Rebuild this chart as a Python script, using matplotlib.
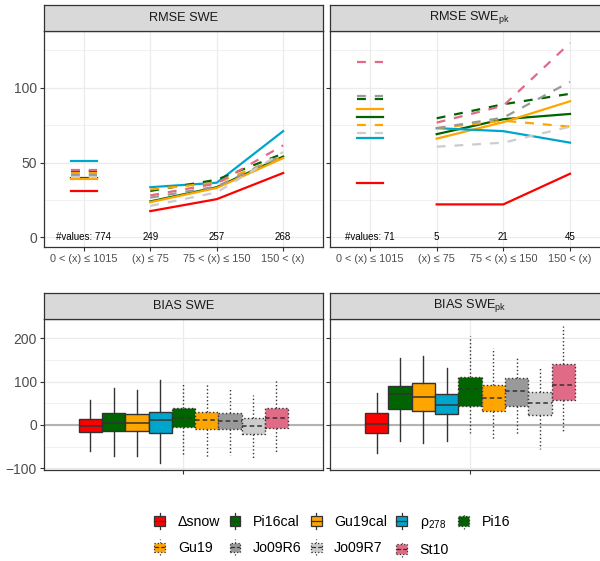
import matplotlib
matplotlib.use("Agg")
import matplotlib.pyplot as plt
from matplotlib.patches import Rectangle, Patch
from matplotlib.lines import Line2D
from matplotlib.legend_handler import HandlerBase

plt.rcParams["font.family"] = ["Liberation Sans", "DejaVu Sans"]
plt.rcParams["mathtext.fontset"] = "custom"
plt.rcParams["mathtext.rm"] = "Liberation Sans"
plt.rcParams["mathtext.default"] = "regular"

# ---- data ----
classes = ["0 < (x) \u2264 1015", "(x) \u2264 75", "75 < (x) \u2264 150", "150 < (x)"]
n_swe = [774, 249, 257, 268]
n_pk = [71, 5, 21, 45]

models = ["\u0394snow", "Pi16cal", "Gu19cal", "\u03c1$_{278}$", "Pi16",
          "Gu19", "Jo09R6", "Jo09R7", "St10"]
COLORS = ["#FF0000", "#006400", "#FFA500", "#00A5CC", "#006400",
          "#FFA500", "#999999", "#CCCCCC", "#E16A86"]
calibrated = [True, True, True, True, False, False, False, False, False]

# RMSE per model, one value per SWE class
rmse_swe = [
    [31.0, 17.5, 25.5, 43.0],
    [39.6, 24.0, 33.5, 54.0],
    [38.9, 23.5, 33.0, 53.0],
    [51.0, 33.5, 36.5, 71.0],
    [44.3, 31.0, 38.5, 56.0],
    [43.0, 32.0, 36.5, 54.0],
    [41.5, 26.5, 34.0, 55.0],
    [40.5, 21.0, 30.0, 57.0],
    [45.0, 28.0, 36.0, 61.5],
]
rmse_pk = [
    [36.5, 22.0, 22.0, 42.5],
    [80.7, 69.0, 79.0, 82.5],
    [85.7, 66.0, 77.0, 91.0],
    [66.7, 73.0, 71.0, 63.3],
    [92.8, 79.6, 89.0, 96.0],
    [75.0, 73.0, 78.0, 74.0],
    [94.6, 73.0, 80.0, 104.0],
    [70.0, 60.6, 63.3, 74.0],
    [117.2, 76.7, 88.0, 130.0],
]

# bias box statistics per model
bias_swe_lo = [-59, -71, -71, -88, -69, -75, -69, -77, -65]
bias_swe_q1 = [-17, -13, -13, -18, -4, -10, -10, -21, -6]
bias_swe_med = [-2.5, 5, 5, 11.5, 17, 11.5, 9, -2.5, 15.4]
bias_swe_q3 = [13, 27, 24.4, 31, 38.5, 31, 28, 15.4, 38.5]
bias_swe_hi = [57, 85, 81, 104, 95, 96, 86, 69, 104]

bias_pk_lo = [-65, -38, -41, -36, -19, -35, -23, -56, -19]
bias_pk_q1 = [-19, 36, 32, 25.4, 44.6, 32, 44, 23, 58]
bias_pk_med = [1.5, 71, 64, 45.4, 82, 63, 78.5, 51.5, 91.6]
bias_pk_q3 = [27, 90, 96, 71.5, 111.6, 92, 108, 77, 140]
bias_pk_hi = [73, 154, 158, 131, 205, 177, 154, 133, 228.6]

EDGE = "#333333"
GRID = "#ebebeb"
W, H = 600, 561

fig = plt.figure(figsize=(6, 5.61), dpi=100)


def box(x0, y_top, x1, y_bot):
    return [x0 / W, 1 - y_bot / H, (x1 - x0) / W, (y_bot - y_top) / H]


def style_panel(ax, yticks, yminor, show_ylabels):
    ax.set_axisbelow(True)
    for s in ax.spines.values():
        s.set_color(EDGE)
        s.set_linewidth(0.9)
    ax.set_yticks(yticks)
    ax.set_yticks(yminor, minor=True)
    ax.grid(which="major", color=GRID, lw=0.9)
    ax.grid(which="minor", axis="y", color=GRID, lw=0.5)
    ax.tick_params(which="major", direction="out", length=3, width=0.8,
                   color=EDGE, labelcolor="#4d4d4d", pad=2)
    ax.tick_params(which="minor", length=0)
    ax.tick_params(axis="y", labelsize=10, labelleft=show_ylabels)
    ax.tick_params(axis="x", labelsize=7.8)


def strip(rect, label):
    s = fig.add_axes(rect)
    s.set_facecolor("#d9d9d9")
    s.set_xticks([])
    s.set_yticks([])
    for sp in s.spines.values():
        sp.set_color(EDGE)
        sp.set_linewidth(0.9)
    s.text(0.5, 0.5, label, ha="center", va="center", fontsize=9.2,
           color="#1a1a1a", transform=s.transAxes)


def rmse_panel(rect, srect, title, values, counts, show_ylabels):
    ax = fig.add_axes(rect)
    strip(srect, title)
    xs = range(1, len(classes) + 1)
    for vals, c, cal in zip(values, COLORS, calibrated):
        ls = "-" if cal else (0, (4, 4))
        # overall class as a short bar, size classes as a connected line
        ax.plot([0.8, 1.2], [vals[0], vals[0]], color=c, lw=1.6, ls=ls)
        ax.plot(list(xs)[1:], vals[1:], color=c, lw=1.6, ls=ls)
    for i, n in enumerate(counts):
        txt = f"#values: {n}" if i == 0 else str(n)
        ax.text(i + 1, 0, txt, ha="center", va="center", fontsize=7, color="black")
    ax.set_xlim(0.4, 4.6)
    ax.set_ylim(-6.5, 138)
    ax.set_xticks(list(xs))
    ax.set_xticklabels(classes)
    style_panel(ax, [0, 50, 100], [25, 75, 125], show_ylabels)
    return ax


def bias_panel(rect, srect, title, lo, q1, med, q3, hi, show_ylabels):
    ax = fig.add_axes(rect)
    strip(srect, title)
    ax.axhline(0, color="#b3b3b3", lw=1.5, zorder=1.5)
    n = len(models)
    for i in range(n):
        pos = 1 + (i - (n - 1) / 2) * 0.1
        ls = "-" if calibrated[i] else ":"
        mls = "-" if calibrated[i] else (0, (3, 2))
        stats = [dict(whislo=lo[i], q1=q1[i], med=med[i], q3=q3[i], whishi=hi[i])]
        ax.bxp(stats, positions=[pos], widths=0.1, patch_artist=True,
               showfliers=False, showcaps=False, manage_ticks=False,
               boxprops=dict(facecolor=COLORS[i], edgecolor=EDGE, linestyle=ls, lw=1),
               whiskerprops=dict(color=EDGE, linestyle=ls, lw=1),
               medianprops=dict(color=EDGE, linestyle=mls, lw=1.1))
    ax.set_xlim(0.4, 1.6)
    ax.set_ylim(-104, 244.5)
    ax.set_xticks([1])
    ax.set_xticklabels([""])
    style_panel(ax, [-100, 0, 100, 200], [-50, 50, 150], show_ylabels)
    return ax


pk = "SWE$_{pk}$"
rmse_panel(box(44, 31, 323, 247), box(44, 5, 323, 31), "RMSE SWE", rmse_swe, n_swe, True)
rmse_panel(box(330, 31, 610, 247), box(330, 5, 610, 31), "RMSE " + pk, rmse_pk, n_pk, False)
bias_panel(box(44, 319, 323, 470), box(44, 293, 323, 319), "BIAS SWE",
           bias_swe_lo, bias_swe_q1, bias_swe_med, bias_swe_q3, bias_swe_hi, True)
bias_panel(box(330, 319, 610, 470), box(330, 293, 610, 319), "BIAS " + pk,
           bias_pk_lo, bias_pk_q1, bias_pk_med, bias_pk_q3, bias_pk_hi, False)


class BoxKey(HandlerBase):
    def create_artists(self, legend, orig_handle, xdescent, ydescent,
                       width, height, fontsize, trans):
        ls = orig_handle.get_linestyle()
        dotted = ls not in ("-", "solid")
        lls = ":" if dotted else "-"
        x0, y0 = -xdescent, -ydescent
        cx = x0 + width / 2
        bw = width * 0.9
        rect = Rectangle((cx - bw / 2, y0 + height * 0.2), bw, height * 0.6,
                         facecolor=orig_handle.get_facecolor(), edgecolor=EDGE,
                         lw=0.9, ls=lls, transform=trans)
        w1 = Line2D([cx, cx], [y0, y0 + height * 0.2], color=EDGE, lw=0.9,
                    ls=lls, transform=trans)
        w2 = Line2D([cx, cx], [y0 + height * 0.8, y0 + height], color=EDGE,
                    lw=0.9, ls=lls, transform=trans)
        md = Line2D([cx - bw / 2, cx + bw / 2], [y0 + height * 0.5] * 2,
                    color=EDGE, lw=0.9, ls="--" if dotted else "-", transform=trans)
        return [w1, w2, rect, md]


handles = [Patch(facecolor=c, linestyle="-" if cal else ":")
           for c, cal in zip(COLORS, calibrated)]
# legend fills column by column: reorder so rows read in model order
order = [0, 5, 1, 6, 2, 7, 3, 8, 4]
fig.legend([handles[i] for i in order], [models[i] for i in order],
           handler_map={Patch: BoxKey()}, ncol=5, frameon=False,
           loc="center", bbox_to_anchor=(332 / W, 1 - 535 / H),
           fontsize=10.2, handlelength=0.85, handleheight=1.35,
           handletextpad=0.85, columnspacing=0.6, labelspacing=0.75)

fig.savefig("out.png", dpi=100)
